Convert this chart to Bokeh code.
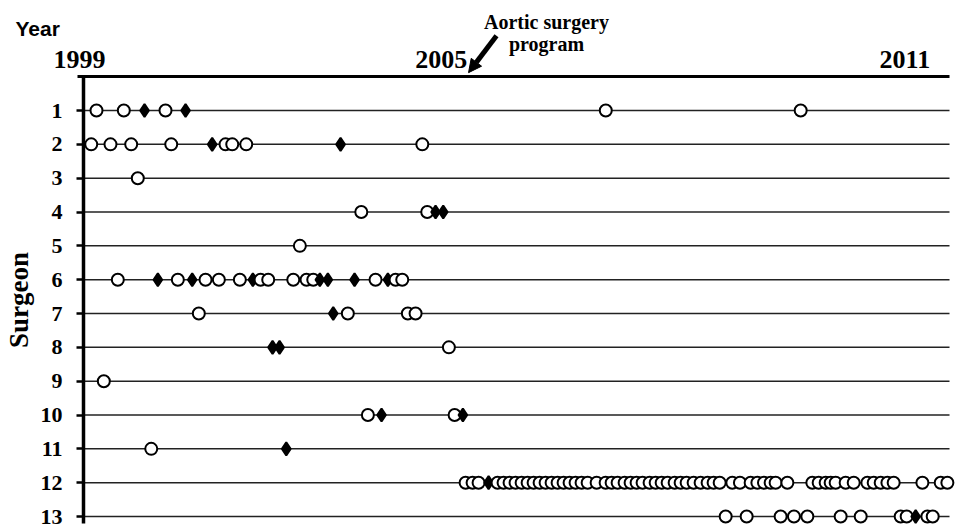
import pandas as pd
from bokeh.plotting import figure
from bokeh.models import ColumnDataSource, FixedTicker, Range1d, Arrow, NormalHead
from bokeh.core.properties import value
from bokeh.embed import file_html
from bokeh.resources import INLINE

# ---------------- data ----------------
surgeons = list(range(1, 14))

# chronological case position of each operation, per surgeon
# open circles
open_cases = [
    [1.95, 6.05, 12.31, 78.4, 107.66],                                   # 1
    [1.16, 4.05, 7.16, 13.17, 21.32, 22.33, 24.43, 50.86],               # 2
    [8.15],                                                              # 3
    [41.7, 51.6],                                                        # 4
    [32.48],                                                             # 5
    [5.15, 14.16, 18.32, 20.32, 23.47, 26.58, 27.73, 31.49, 33.48,
     34.49, 43.84, 46.85, 47.85],                                        # 6
    [17.31, 39.68, 48.69, 49.85],                                        # 7
    [54.85],                                                             # 8
    [3.05],                                                              # 9
    [42.69, 55.71],                                                      # 10
    [10.17],                                                             # 11
    [57.36, 58.41, 59.31, 62.16, 63.06, 63.96, 64.86, 65.77, 66.67,
     67.57, 68.47, 69.37, 70.27, 71.17, 72.07, 72.97, 73.87, 74.77,
     75.68, 77.03, 78.38, 79.28, 80.18, 81.23, 82.13, 83.03, 83.93,
     84.98, 85.89, 86.79, 87.69, 88.74, 89.64, 90.54, 91.59, 92.64,
     93.69, 94.59, 95.50, 97.40, 98.54, 100.15, 101.16, 102.15, 103.15,
     103.90, 105.66, 109.41, 110.36, 111.41, 112.16, 112.91, 114.41,
     115.62, 117.67, 118.62, 119.67, 120.68, 121.62, 125.93, 128.68,
     129.68],                                                            # 12
    [96.40, 99.55, 104.65, 106.65, 108.66, 113.66, 116.67, 122.67,
     123.57, 126.68, 127.48],                                            # 13
]
# filled diamonds
solid_cases = [
    [9.16, 15.32],                                                       # 1
    [19.32, 38.59],                                                      # 2
    [],                                                                  # 3
    [52.85, 54.0],                                                       # 4
    [],                                                                  # 5
    [11.16, 16.32, 25.42, 35.48, 36.68, 40.69, 45.69],                   # 6
    [37.49],                                                             # 7
    [28.38, 29.43],                                                      # 8
    [],                                                                  # 9
    [44.74, 56.95],                                                      # 10
    [30.44],                                                             # 11
    [60.81],                                                             # 12
    [124.92],                                                            # 13
]

year_labels = ["1999", "2005", "2011"]
year_positions = [-0.6, 53.7, 123.3]
program_start = 57.8
program_label = ["Aortic surgery", "program"]

# ---------------- build table ----------------
rows = []
for s, xs in zip(surgeons, open_cases):
    for x in xs:
        rows.append((x, s, "circle", "white", 12))
for s, xs in zip(surgeons, solid_cases):
    for x in xs:
        rows.append((x, s, "diamond", "black", 13))
df = pd.DataFrame(rows, columns=["case", "surgeon", "marker", "fill", "size"]).sort_values("case")
src = ColumnDataSource(df)

SERIF = "Liberation Serif"
X_END = 130          # end of the time scale (case positions)
Y_END = 13.2         # bottom of the surgeon axis

# The frame fills the whole figure; the axes are pinned at the start of the scales.
p = figure(width=957, height=529,
           x_range=Range1d(-12.46, 131.2), y_range=Range1d(13.384, -2.252),
           x_axis_location="above",
           output_backend="svg", toolbar_location=None,
           min_border_left=0, min_border_right=0, min_border_top=0, min_border_bottom=0)
p.outline_line_color = None
p.background_fill_color = "white"
p.border_fill_color = "white"
p.xgrid.visible = False
p.ygrid.visible = False

# ---- year scale (top) ----
xa = p.xaxis[0]
xa.fixed_location = 0
xa.bounds = (-0.9, X_END)
xa.ticker = FixedTicker(ticks=year_positions)
xa.major_label_overrides = {pos: lab for pos, lab in zip(year_positions, year_labels)}
xa.axis_line_width = 3
xa.axis_line_color = "black"
xa.major_tick_line_color = None
xa.minor_tick_line_color = None
xa.major_tick_out = 0
xa.major_tick_in = 0
xa.major_label_standoff = 9
xa.major_label_text_font = SERIF
xa.major_label_text_font_style = "bold"
xa.major_label_text_font_size = "26px"
xa.major_label_text_color = "black"

# ---- surgeon axis (left) ----
ya = p.yaxis[0]
ya.fixed_location = 0
ya.bounds = (0, Y_END)
ya.ticker = FixedTicker(ticks=surgeons)
ya.axis_line_width = 3.5
ya.axis_line_color = "black"
ya.major_tick_out = 7
ya.major_tick_in = 0
ya.major_tick_line_width = 2.5
ya.major_tick_line_color = "black"
ya.minor_tick_line_color = None
ya.major_label_standoff = 14
ya.major_label_text_font = SERIF
ya.major_label_text_font_style = "bold"
ya.major_label_text_font_size = "22px"
ya.major_label_text_color = "black"
ya.axis_label = "Surgeon"
ya.axis_label_text_font = SERIF
ya.axis_label_text_font_style = "bold"
ya.axis_label_text_font_size = "27px"
ya.axis_label_text_color = "black"
ya.axis_label_standoff = 4

# ---- one horizontal line per surgeon ----
p.segment(x0=[0] * len(surgeons), y0=surgeons, x1=[X_END] * len(surgeons), y1=surgeons,
          line_color="#222222", line_width=1.5)

# ---- operations ----
p.scatter("case", "surgeon", marker="marker", fill_color="fill", size="size",
          line_color="black", line_width=2, source=src)

# ---- titles / annotation ----
p.text(x=[-10.21], y=[-1.43], text=["Year"],
       text_font=value("Liberation Sans"), text_font_style="bold",
       text_font_size="21px", text_color="black",
       text_align="left", text_baseline="alphabetic")
p.text(x=[program_start + 11.7] * 2, y=[-1.63, -0.98], text=program_label,
       text_font=value(SERIF), text_font_style="bold",
       text_font_size="20px", text_color="black",
       text_align="center", text_baseline="alphabetic")
p.add_layout(Arrow(x_start=program_start + 4.2, y_start=-1.21, x_end=program_start, y_end=-0.12,
                   line_width=5, line_color="black",
                   end=NormalHead(size=13, fill_color="black", line_color="black", line_width=1)))

open("out.html", "w").write(file_html(p, INLINE))
